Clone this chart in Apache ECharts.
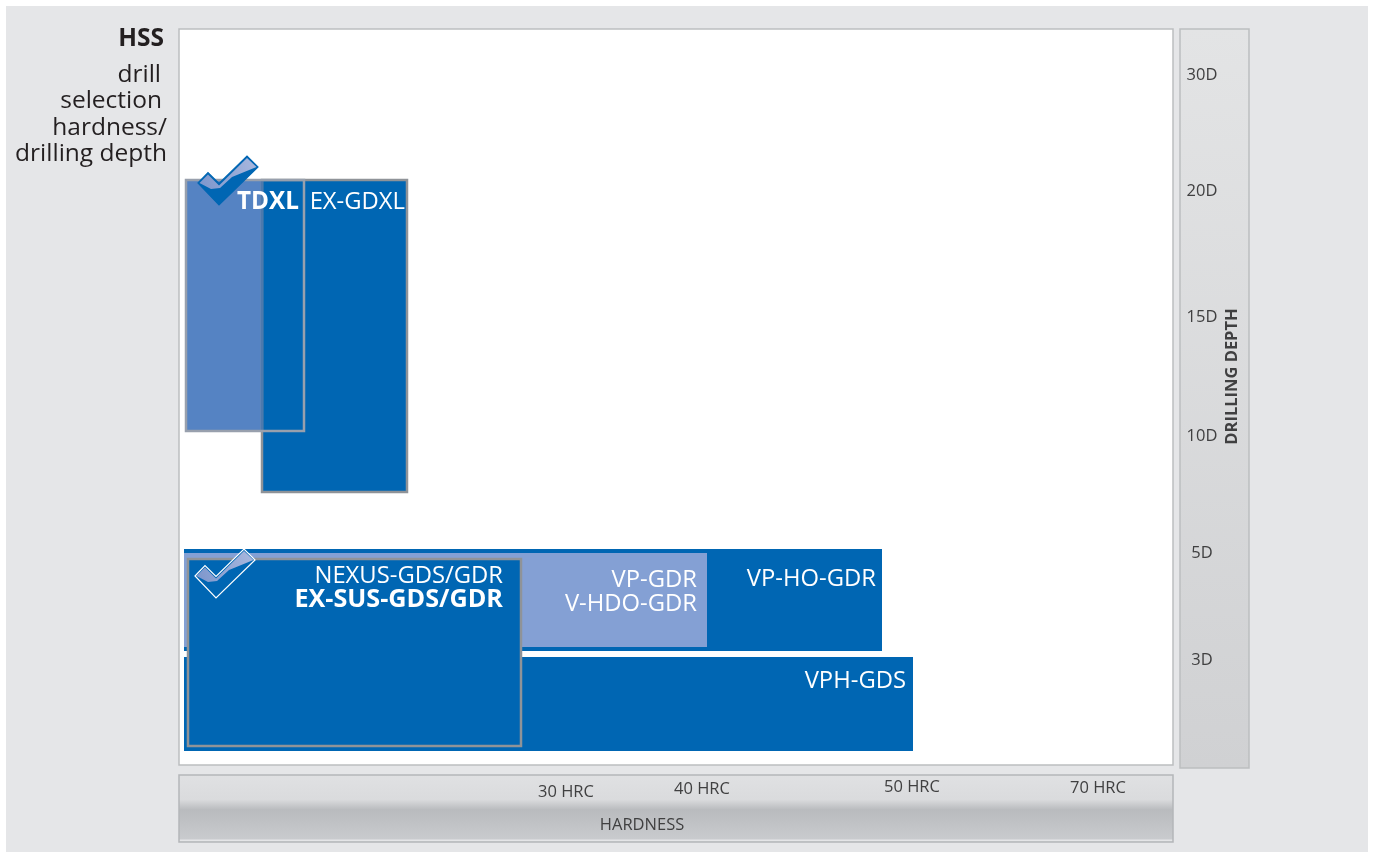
<!DOCTYPE html>
<html><head><meta charset="utf-8">
<style>html,body{margin:0;padding:0;background:#fff}#c{width:1375px;height:852px}</style>
<script src="https://cdn.jsdelivr.net/npm/echarts@6/dist/echarts.min.js"></script>
</head><body><div id="c"></div>
<script>
// Axis units: position along the (non-linear) printed scales.
const hardnessTicks = [387, 523, 733, 919];
const hardnessLabels = ['30 HRC', '40 HRC', '50 HRC', '70 HRC'];
const depthTicks = [105, 212, 329, 448, 574, 690];
const depthLabels = ['3D', '5D', '10D', '15D', '20D', '30D'];
const drillNames = ['VPH-GDS', 'VP-HO-GDR', 'VP-GDR\nV-HDO-GDR', 'NEXUS-GDS/GDR\n{b|EX-SUS-GDS/GDR}', '{t|TDXL}', 'EX-GDXL'];
const hardnessFrom = [5, 5, 5, 9, 7, 83];
const hardnessTo = [734, 703, 528, 342, 125, 228];
const depthFrom = [14, 114, 118, 19, 334, 273];
const depthTo = [108, 216, 212, 206, 585, 585];
const kinds = ['plain', 'plain', 'light', 'framed', 'glass', 'framed'];
const checkAt = [[19, 609], [16, 216]];
const titleLines = ['HSS', 'drill', 'selection', 'hardness/', 'drilling depth'];

const BLUE = '#0066b3', GREY = '#8f9398', FONT = '"Open Sans","Noto Sans",sans-serif';
const fillOf = { plain: BLUE, light: '#84a0d4', framed: BLUE, glass: '#5583c3' };
const labelRight = [7, 6, 10, 18, 5, 2];
const labelTop = [12, 18, 15, 5, 10, 10];
const grad = (stops) => new echarts.graphic.LinearGradient(0, 0, 0, 1, stops.map(([offset, color]) => ({ offset, color })));

const rectItem = (api, i, fill, stroke) => {
  const a = api.coord([hardnessFrom[i], depthTo[i]]), b = api.coord([hardnessTo[i], depthFrom[i]]);
  return { type: 'rect', shape: { x: a[0], y: a[1], width: b[0] - a[0], height: b[1] - a[1] },
    style: { fill, stroke, lineWidth: stroke ? 2.5 : 0 } };
};
const checkPath = 'M0 27L10 16.5L21 27.5L49 0L60 11L21 49Z';
const glossPath = 'M1.5 27L10 18.5L21 29.5L49 2L58.5 11L34 21L22 32L13 33Z';

const option = {
  animation: false,
  textStyle: { fontFamily: FONT },
  title: titleLines.map((text, i) => ({
    text, padding: 0, left: [164, 161, 162, 167, 167][i], top: [38, 74, 100, 127, 153][i] - 15, textAlign: 'right',
    textStyle: { fontFamily: FONT, fontSize: 24.5, lineHeight: 32, fontWeight: i ? 'normal' : 'bold', color: '#231f20' }
  })),
  grid: [
    { left: 6, top: 6, width: 1362, height: 846, show: true, backgroundColor: '#e5e6e8', borderWidth: 0 },
    { left: 179, top: 29, width: 994, height: 736, show: true, backgroundColor: '#fff', borderColor: '#bcbec0', borderWidth: 1.5 },
    { left: 1180, top: 29, width: 69, height: 739, show: true, borderColor: '#bcbec0', borderWidth: 1.5,
      backgroundColor: grad([[0, '#e3e4e5'], [1, '#d0d1d3']]) },
    { left: 179, top: 775, width: 994, height: 67, show: true, borderColor: '#b4b6b9', borderWidth: 1.5,
      backgroundColor: grad([[0, '#e0e1e3'], [0.37, '#dadbdd'], [0.52, '#b9bbbe'], [0.95, '#c9cbce'], [0.955, '#e4e5e7'], [0.98, '#e4e5e7'], [0.985, '#c9cbce'], [1, '#c9cbce']]) }
  ],
  xAxis: [
    { gridIndex: 0, type: 'value', show: false, min: 0, max: 1 },
    { gridIndex: 1, type: 'value', show: false, min: 0, max: 994 },
    { gridIndex: 2, type: 'value', show: false, min: 0, max: 1 },
    { gridIndex: 3, type: 'value', min: 0, max: 994, position: 'top', splitLine: { show: false },
      axisLine: { show: false }, axisTick: { show: false },
      axisLabel: { inside: true, margin: 4, color: '#404041', fontSize: 16.5, hideOverlap: false, verticalAlign: 'top',
        customValues: hardnessTicks,
        formatter: v => { const i = hardnessTicks.indexOf(v); return `{l${i}|${hardnessLabels[i]}}`; },
        rich: { l0: { padding: [5, 0, 0, 0], fontSize: 16.5, color: '#404041' }, l1: { padding: [2, 0, 0, 0], fontSize: 16.5, color: '#404041' }, l2: { padding: [0, 0, 0, 0], fontSize: 16.5, color: '#404041' }, l3: { padding: [1, 0, 0, 0], fontSize: 16.5, color: '#404041' } } } },
    { gridIndex: 3, type: 'value', min: 0, max: 994, position: 'bottom', offset: -17, splitLine: { show: false },
      axisLine: { show: false }, axisTick: { show: false }, axisLabel: { show: false },
      name: 'HARDNESS', nameLocation: 'start', nameGap: -463, nameMoveOverlap: false,
      nameTextStyle: { align: 'center', verticalAlign: 'middle', color: '#404041', fontSize: 16.5 } }
  ],
  yAxis: [
    { gridIndex: 0, type: 'value', show: false, min: 0, max: 1 },
    { gridIndex: 1, type: 'value', show: false, min: 0, max: 736 },
    { gridIndex: 2, type: 'value', min: -3, max: 736, position: 'right', splitLine: { show: false },
      axisLine: { show: false }, axisTick: { show: false },
      axisLabel: { inside: true, margin: 47, align: 'center', color: '#404041', fontSize: 16.5, hideOverlap: false,
        customValues: depthTicks, formatter: v => depthLabels[depthTicks.indexOf(v)] },
      name: 'DRILLING DEPTH', nameLocation: 'middle', nameGap: -25, nameRotate: 90, nameMoveOverlap: false,
      nameTextStyle: { color: '#404041', fontSize: 16.5, fontWeight: 'bold', padding: [0, 0, 0, 44] } },
    { gridIndex: 3, type: 'value', show: false, min: 0, max: 1 }
  ],
  series: [
    { type: 'custom', name: 'drills', xAxisIndex: 1, yAxisIndex: 1, coordinateSystem: 'cartesian2d', clip: false,
      data: drillNames.map((_, i) => [hardnessFrom[i], depthFrom[i]]),
      encode: { x: 0, y: 1 },
      renderItem: (p, api) => {
        const i = p.dataIndex, k = kinds[i];
        return rectItem(api, i, fillOf[k], k === 'framed' ? GREY : null);
      } },
    { type: 'custom', name: 'frames', xAxisIndex: 1, yAxisIndex: 1, clip: false, z: 3,
      data: drillNames.map((_, i) => [hardnessFrom[i], depthFrom[i]]),
      encode: { x: 0, y: 1 },
      renderItem: (p, api) => {
        if (kinds[p.dataIndex] !== 'glass') return null;
        const i = p.dataIndex, a = api.coord([hardnessFrom[5], depthTo[i]]), b = api.coord([hardnessFrom[5], depthFrom[i]]);
        return { type: 'group', children: [
          { type: 'line', shape: { x1: a[0], y1: a[1], x2: b[0], y2: b[1] }, style: { stroke: '#4c79ad', lineWidth: 2.5 } },
          rectItem(api, i, 'transparent', '#98a0ad')
        ] };
      } },
    { type: 'custom', name: 'checks', xAxisIndex: 1, yAxisIndex: 1, clip: false, z: 4,
      data: checkAt, encode: { x: 0, y: 1 },
      renderItem: (p, api) => {
        const c = api.coord([api.value(0), api.value(1)]), upper = p.dataIndex === 0;
        return { type: 'group', x: c[0], y: c[1], children: [
          { type: 'path', shape: { pathData: checkPath, x: 0, y: 0, width: 60, height: 49 },
            style: { fill: BLUE, stroke: upper ? BLUE : '#fff', lineWidth: 1.2 } },
          { type: 'path', shape: { pathData: glossPath, x: 1.5, y: 2, width: 57, height: 31 },
            style: { fill: new echarts.graphic.LinearGradient(1, 0, 0, 0.6, [{ offset: 0, color: '#a9b8de' }, { offset: 1, color: '#7f98cd' }]) } }
        ] };
      } },
    { type: 'custom', name: 'names', xAxisIndex: 1, yAxisIndex: 1, clip: false, z: 5,
      data: drillNames.map((_, i) => [hardnessTo[i], depthTo[i]]),
      encode: { x: 0, y: 1 },
      renderItem: (p, api) => {
        const i = p.dataIndex, c = api.coord([hardnessTo[i], depthTo[i]]);
        return { type: 'text', x: c[0] - labelRight[i], y: c[1] + labelTop[i],
          style: { text: drillNames[i], fill: '#fff', align: 'right', verticalAlign: 'top', fontFamily: FONT, fontSize: 23.8, lineHeight: 24,
            rich: {
              b: { fontFamily: FONT, fontSize: 25.2, fontWeight: 'bold', lineHeight: 24, fill: '#fff', color: '#fff' },
              t: { fontFamily: FONT, fontSize: 24.3, fontWeight: 'bold', lineHeight: 24, fill: '#fff', color: '#fff' }
            } } };
      } }
  ]
};
echarts.init(document.getElementById('c')).setOption(option);
</script></body></html>
